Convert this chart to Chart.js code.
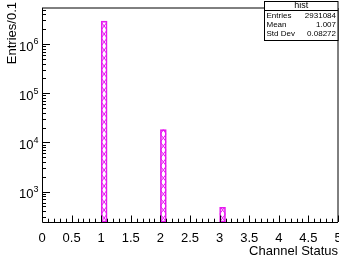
<!DOCTYPE html>
<html><head><meta charset="utf-8">
<script src="https://cdn.jsdelivr.net/npm/chart.js@4/dist/chart.umd.min.js"></script>
<style>html,body{margin:0;padding:0;background:#fff;overflow:hidden}canvas{display:block}</style>
</head><body>
<canvas id="c" width="339" height="257"></canvas>
<script>
// ---- data ----
const binLowEdges = [1.0, 2.0, 3.0];
const binCounts = [2912374, 18230, 480];
const binWidth = 0.1;
const xRange = [0, 5];
const yRange = [241, 5.38e6];
const xTickLabels = ['0', '0.5', '1', '1.5', '2', '2.5', '3', '3.5', '4', '4.5', '5'];
const yDecades = [3, 4, 5, 6];
const statsTitle = 'hist';
const statsLabels = ['Entries', 'Mean', 'Std Dev'];
const statsValues = ['2931084', '1.007', '0.08272'];
const xTitle = 'Channel Status';
const yTitle = 'Entries/0.1';

const MAG = '#e619f0';
const FONT = '"Liberation Sans", Arial, sans-serif';

// histogram table (all bins, empty ones null) built from the arrays above
const nBins = Math.round((xRange[1] - xRange[0]) / binWidth);
const points = [];
for (let i = 0; i < nBins; i++) {
  const lo = xRange[0] + i * binWidth;
  const k = binLowEdges.findIndex(e => Math.round(e / binWidth) === i);
  points.push({ x: lo + binWidth / 2, y: k >= 0 ? binCounts[k] : null });
}

const rootStyle = {
  id: 'rootStyle',
  afterDatasetsDraw(chart) {
    const ctx = chart.ctx;
    const meta = chart.getDatasetMeta(0);
    ctx.save();
    ctx.strokeStyle = MAG;
    ctx.lineWidth = 1;
    meta.data.forEach(bar => {
      const p = bar.getProps(['x', 'y', 'base', 'width'], true);
      if (p.y == null || isNaN(p.y)) return;
      const l = p.x - p.width / 2, r = p.x + p.width / 2;
      const top = Math.min(p.y, p.base), bot = Math.max(p.y, p.base);
      ctx.save();
      ctx.beginPath(); ctx.rect(l, top, r - l, bot - top); ctx.clip();
      const per = 8;
      ctx.beginPath();
      for (let y0 = bot; y0 > top - per; y0 -= per) {
        ctx.moveTo(l, y0); ctx.lineTo(r, y0 - per);
        ctx.moveTo(r, y0); ctx.lineTo(l, y0 - per);
      }
      ctx.stroke();
      ctx.restore();
    });
    ctx.restore();
  },
  afterDraw(chart) {
    const ctx = chart.ctx;
    const a = chart.chartArea;
    const xs = chart.scales.x, ys = chart.scales.y;
    ctx.save();
    // frame top/right
    ctx.strokeStyle = '#000';
    ctx.lineWidth = 1;
    ctx.beginPath();
    ctx.moveTo(a.left, a.top); ctx.lineTo(a.right, a.top); ctx.lineTo(a.right, a.bottom);
    ctx.stroke();
    // axes
    ctx.beginPath();
    ctx.moveTo(a.left + 0.5, a.top); ctx.lineTo(a.left + 0.5, a.bottom + 0.5);
    ctx.lineTo(a.right, a.bottom + 0.5);
    ctx.stroke();
    // x ticks (inward)
    ctx.beginPath();
    for (let i = 0; i <= nBins; i++) {
      const px = Math.round(xs.getPixelForValue(xRange[0] + i * binWidth)) + 0.5;
      const len = (i % 5 === 0) ? 6.5 : 3.3;
      ctx.moveTo(px, a.bottom); ctx.lineTo(px, a.bottom - len);
    }
    // y ticks (inward, log)
    for (let d = 2; d <= 6; d++) {
      for (let m = 1; m <= 9; m++) {
        const v = m * Math.pow(10, d);
        if (v < ys.min || v > ys.max) continue;
        const py = Math.round(ys.getPixelForValue(v)) + 0.5;
        const len = m === 1 ? 8 : 4;
        ctx.moveTo(a.left, py); ctx.lineTo(a.left + len, py);
      }
    }
    ctx.stroke();
    // y labels 10^n
    ctx.fillStyle = '#000';
    yDecades.forEach(d => {
      const py = ys.getPixelForValue(Math.pow(10, d));
      ctx.font = '13px ' + FONT;
      ctx.textAlign = 'right'; ctx.textBaseline = 'middle';
      ctx.fillText('10', 33.5, py + 3);
      ctx.font = '9px ' + FONT;
      ctx.textAlign = 'left';
      ctx.fillText(String(d), 33.5, py - 2);
    });
    // axis titles
    ctx.font = '13px ' + FONT;
    ctx.textAlign = 'right'; ctx.textBaseline = 'middle';
    ctx.fillText(xTitle, a.right, 251);
    ctx.save();
    ctx.translate(12, 2);
    ctx.rotate(-Math.PI / 2);
    ctx.textAlign = 'right'; ctx.textBaseline = 'middle';
    ctx.fillText(yTitle, 0, 0);
    ctx.restore();
    // stats box
    const bx = 264.5, by = 1.5, bw = 73.5, bh = 39;
    ctx.fillStyle = '#fff';
    ctx.fillRect(bx, by, bw, bh);
    ctx.strokeStyle = '#000';
    ctx.strokeRect(bx, by, bw, bh);
    ctx.beginPath(); ctx.moveTo(bx, 10.5); ctx.lineTo(bx + bw, 10.5); ctx.stroke();
    ctx.fillStyle = '#000';
    ctx.font = '9px ' + FONT;
    ctx.textAlign = 'center'; ctx.textBaseline = 'middle';
    ctx.fillText(statsTitle, bx + bw / 2, 6);
    ctx.font = '8px ' + FONT;
    statsLabels.forEach((lab, i) => {
      const y = 15.5 + i * 9;
      ctx.textAlign = 'left';
      ctx.fillText(lab, bx + 2, y);
      ctx.textAlign = 'right';
      ctx.fillText(statsValues[i], bx + bw - 2, y);
    });
    ctx.restore();
  }
};

new Chart(document.getElementById('c'), {
  type: 'bar',
  data: {
    datasets: [{
      data: points,
      backgroundColor: 'rgba(0,0,0,0)',
      borderColor: MAG,
      borderWidth: 1,
      barPercentage: 1,
      categoryPercentage: 1,
      borderSkipped: false
    }]
  },
  options: {
    responsive: false,
    animation: false,
    devicePixelRatio: 1,
    layout: { padding: { left: 42, right: 1, top: 8, bottom: 9.4 } },
    plugins: { legend: { display: false }, tooltip: { enabled: false } },
    scales: {
      x: {
        type: 'linear',
        min: xRange[0], max: xRange[1],
        offset: false,
        grid: { display: false },
        border: { display: false },
        afterBuildTicks: s => { s.ticks = xTickLabels.map(l => ({ value: parseFloat(l) })); },
        afterFit: s => { s.paddingLeft = 0; s.paddingRight = 0; },
        ticks: {
          autoSkip: false, maxRotation: 0, minRotation: 0, padding: 1,
          color: '#000', font: { family: FONT, size: 13 },
          callback: (v, i) => xTickLabels[i]
        }
      },
      y: {
        type: 'logarithmic',
        display: false,
        min: yRange[0], max: yRange[1]
      }
    }
  },
  plugins: [rootStyle]
});
</script>
</body></html>
